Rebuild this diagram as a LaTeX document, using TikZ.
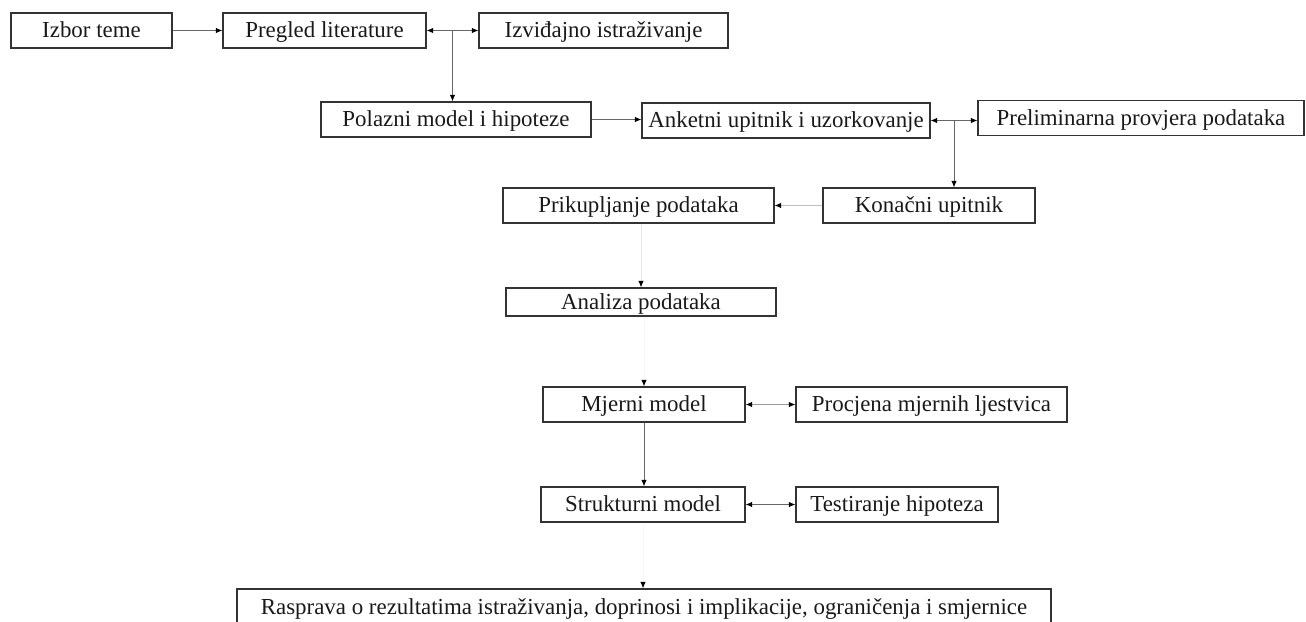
\documentclass[tikz,border=0pt]{standalone}
\usepackage{fontspec}
\setmainfont{Liberation Serif}
\usetikzlibrary{arrows.meta}
\begin{document}
\begin{tikzpicture}[x=1pt,y=-1pt,
  box/.style={draw=black!80, line width=1.2pt, rectangle, inner sep=0pt,
    minimum height=35pt, font=\fontsize{22.9}{26}\selectfont, text=black!90,
    text height=18pt, text depth=4pt},
  tipa/.style={-{Latex[length=6.5pt,width=5.5pt,color=black]}},
  tipb/.style={{Latex[length=6.5pt,width=5.5pt,color=black]}-{Latex[length=6.5pt,width=5.5pt,color=black]}},
  conn/.style={draw=black!60, line width=0.9pt, tipa},
  biconn/.style={draw=black!60, line width=0.9pt, tipb},
  faint/.style={draw=black!25, line width=0.9pt, tipa},
  fainter/.style={draw=black!10, line width=0.9pt, tipa},
  hidden/.style={draw=black!3, line width=0.9pt, tipa}]
\useasboundingbox (0,0) rectangle (1306,621);
\begin{scope}
\clip (0,0) rectangle (1306,621);
% row 1
\node[box, minimum width=161pt] (izbor) at (91.5,30.5) {Izbor teme};
\node[box, minimum width=203pt] (pregled) at (324.5,30.5) {Pregled literature};
\node[box, minimum width=249pt] (izv) at (603.5,30.5) {Izviđajno istraživanje};
% row 2
\node[box, minimum width=270pt] (polazni) at (456,119.5) {Polazni model i hipoteze};
\node[box, minimum width=288pt] (anketni) at (786,120.5) {Anketni upitnik i uzorkovanje};
\node[box, minimum width=326pt] (prelim) at (1141,118) {Preliminarna provjera podataka};
% row 3
\node[box, minimum width=271pt] (prikup) at (638.5,205.5) {Prikupljanje podataka};
\node[box, minimum width=212pt] (konacni) at (929,205.5) {Konačni upitnik};
% row 4
\node[box, minimum width=270pt, minimum height=28pt] (analiza) at (641,302) {Analiza podataka};
% row 5
\node[box, minimum width=202pt] (mjerni) at (644,404.5) {Mjerni model};
\node[box, minimum width=271pt] (procjena) at (931.5,404.5) {Procjena mjernih ljestvica};
% row 6
\node[box, minimum width=204pt] (strukt) at (643,504.5) {Strukturni model};
\node[box, minimum width=202pt] (testir) at (897,504.5) {Testiranje hipoteza};
% final
\node[box, minimum width=814pt, minimum height=37pt] (rasprava) at (644,607.5)
  {Rasprava o rezultatima istraživanja, doprinosi i implikacije, ograničenja i smjernice};

% connectors
\draw[conn] (izbor) -- (pregled);
\draw[biconn] (pregled) -- (izv);
\coordinate (b1) at (452.5,30.5);
\draw[conn] (b1) -- (b1 |- polazni.north);
\draw[conn] (polazni.east) -- (polazni.east -| anketni.west);
\draw[biconn] (anketni.east) -- (anketni.east -| prelim.west);
\coordinate (b2) at (954,120.5);
\draw[conn] (b2) -- (b2 |- konacni.north);
\draw[faint] (konacni) -- (prikup);
\draw[fainter] (analiza.north |- prikup.south) -- (analiza.north);
\draw[hidden] (mjerni.north |- analiza.south) -- (mjerni.north);
\draw[conn] (mjerni.south) -- (mjerni.south |- strukt.north);
\draw[biconn, draw=black!40] (mjerni) -- (procjena);
\draw[biconn] (strukt) -- (testir);
\draw[hidden] (strukt.south) -- (strukt.south |- rasprava.north);
\end{scope}
\end{tikzpicture}
\end{document}
